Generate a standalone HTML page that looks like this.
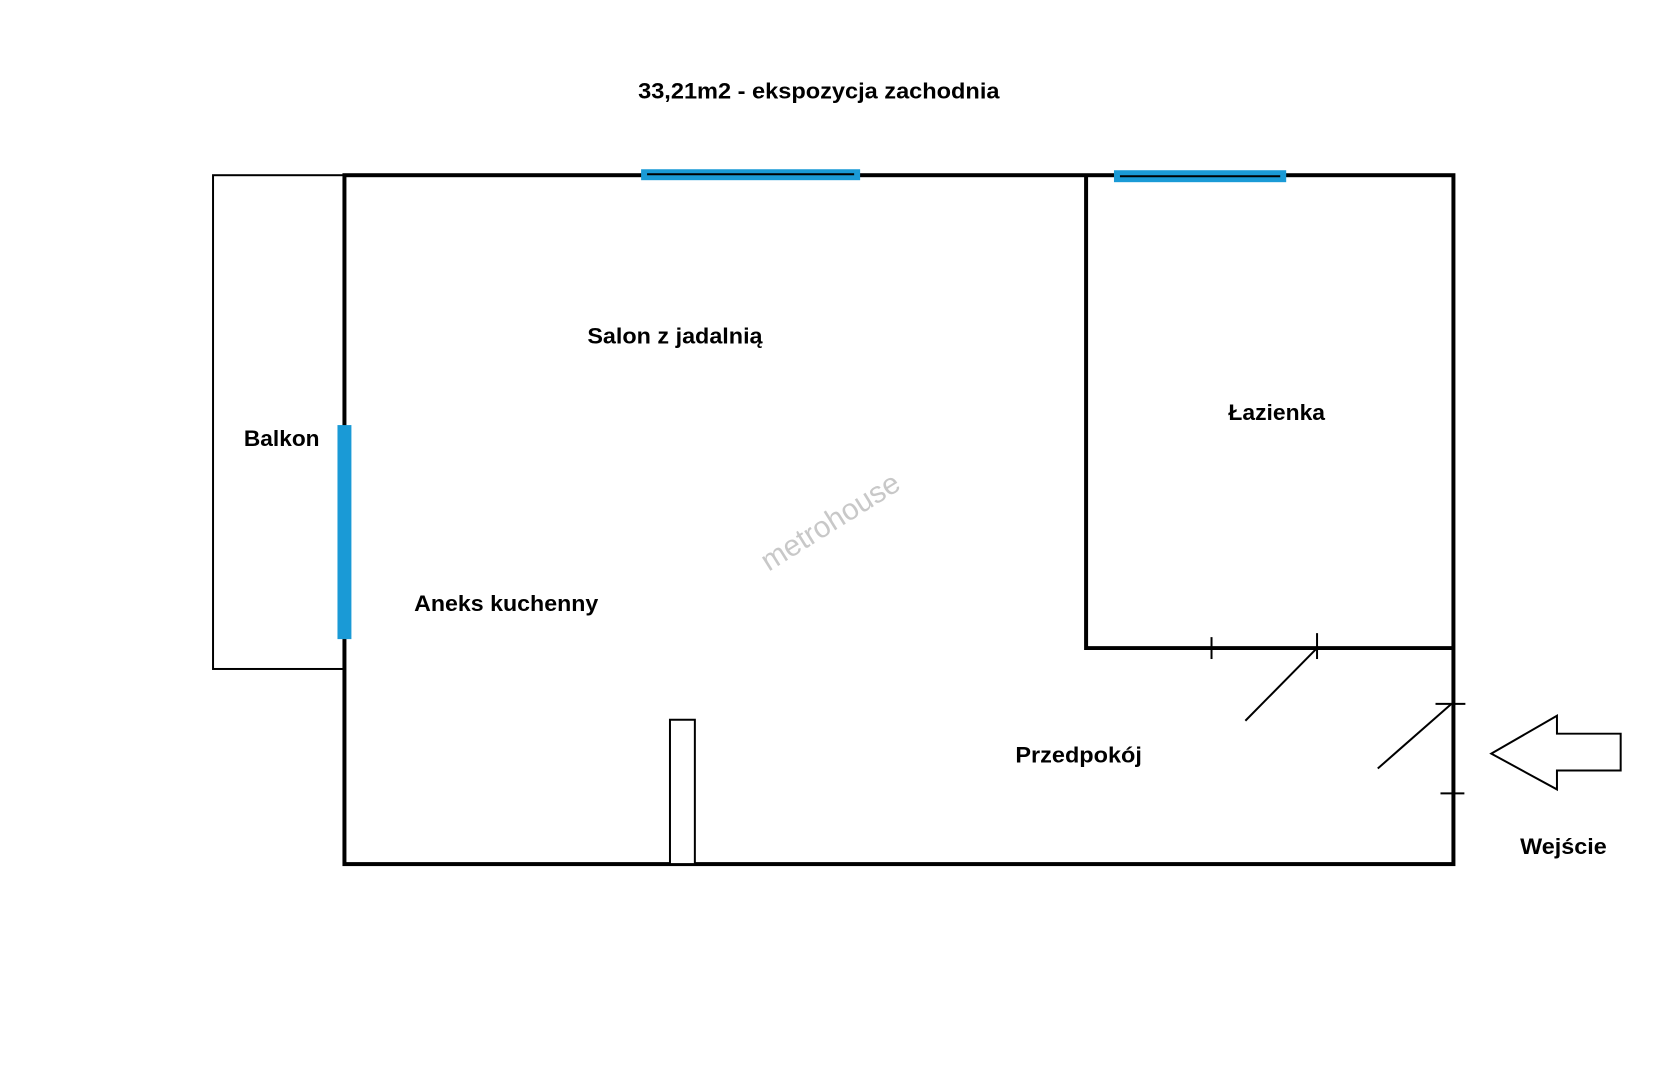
<!DOCTYPE html>
<html><head><meta charset="utf-8"><style>html,body{margin:0;padding:0;background:#fff}svg{display:block}</style></head>
<body>
<svg width="1668" height="1080" viewBox="0 0 1668 1080" xmlns="http://www.w3.org/2000/svg" font-family="Liberation Sans, sans-serif" font-weight="bold" font-size="22" fill="#000">
<g transform="scale(0.9955)">
<rect x="214" y="176" width="132" height="496" fill="none" stroke="#000" stroke-width="2"/>
<rect x="346" y="176" width="1114" height="692" fill="none" stroke="#000" stroke-width="4"/>
<polyline points="1091,176 1091,651 1460,651" fill="none" stroke="#000" stroke-width="4"/>
<rect x="644" y="170" width="220" height="11" fill="#1a9ad6"/>
<line x1="650" y1="175" x2="858" y2="175" stroke="#000" stroke-width="2"/>
<rect x="1119" y="171" width="173" height="12" fill="#1a9ad6"/>
<line x1="1125" y1="177" x2="1286" y2="177" stroke="#000" stroke-width="2"/>
<rect x="339" y="427" width="14" height="215" fill="#1a9ad6"/>
<rect x="673" y="723" width="25" height="145" fill="#fff" stroke="#000" stroke-width="2"/>
<g stroke="#000" stroke-width="2">
<line x1="1217" y1="640" x2="1217" y2="662"/>
<line x1="1323" y1="636" x2="1323" y2="662"/>
<line x1="1323" y1="651" x2="1251" y2="724"/>
<line x1="1442" y1="707" x2="1472" y2="707"/>
<line x1="1447" y1="797" x2="1471" y2="797"/>
<line x1="1458" y1="707" x2="1384" y2="772"/>
</g>
<polygon points="1498,757 1564,719 1564,737 1628,737 1628,774 1564,774 1564,793" fill="#fff" stroke="#000" stroke-width="2"/>
<text x="641" y="99" textLength="363" lengthAdjust="spacingAndGlyphs">33,21m2 - ekspozycja zachodnia</text>
<text x="590" y="345" textLength="176" lengthAdjust="spacingAndGlyphs">Salon z jadalnią</text>
<text x="245" y="448" textLength="76" lengthAdjust="spacingAndGlyphs">Balkon</text>
<text x="1234" y="422" textLength="97" lengthAdjust="spacingAndGlyphs">Łazienka</text>
<text x="416" y="614" textLength="185" lengthAdjust="spacingAndGlyphs">Aneks kuchenny</text>
<text x="1020" y="766" textLength="127" lengthAdjust="spacingAndGlyphs">Przedpokój</text>
<text x="1527" y="858" textLength="87" lengthAdjust="spacingAndGlyphs">Wejście</text>
<text x="834" y="534" text-anchor="middle" font-weight="normal" font-size="30" fill="#c8c8c8" transform="rotate(-32 834 524)">metrohouse</text>
</g>
</svg>
</body></html>
